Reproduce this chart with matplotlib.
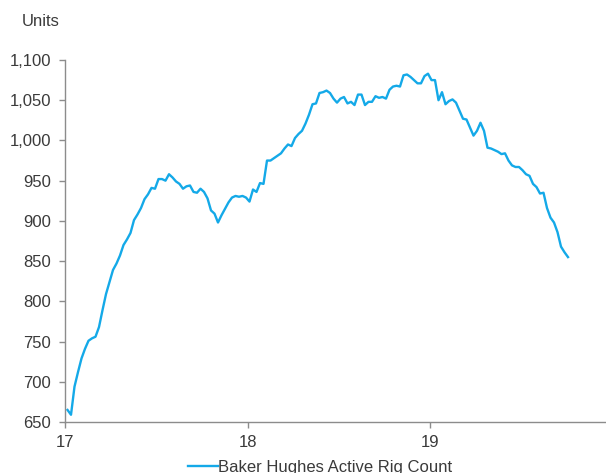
import matplotlib
matplotlib.use("Agg")
import matplotlib.pyplot as plt
import matplotlib.ticker as mticker
import pandas as pd

plt.rcParams["font.family"] = ["Liberation Sans", "DejaVu Sans"]

# Weekly Baker Hughes US active rig count, Fridays from 6 Jan 2017
rigs_2017 = [665, 659, 694, 712, 729, 741, 751, 754, 756, 768,
             789, 809, 824, 839, 847, 857, 870, 877, 885, 901,
             908, 916, 927, 933, 941, 940, 952, 952, 950, 958,
             954, 949, 946, 940, 943, 944, 936, 935, 940, 936,
             928, 913, 909, 898, 907, 915, 923, 929, 931, 930,
             931, 929]
rigs_2018 = [924, 939, 936, 947, 946, 975, 975, 978, 981, 984,
             990, 995, 993, 1003, 1008, 1012, 1021, 1032, 1045, 1046,
             1059, 1060, 1062, 1059, 1052, 1047, 1052, 1054, 1046, 1048,
             1044, 1057, 1057, 1044, 1048, 1048, 1055, 1053, 1054, 1052,
             1063, 1067, 1068, 1067, 1081, 1082, 1079, 1075, 1071, 1071,
             1080, 1083]
rigs_2019 = [1075, 1075, 1050, 1060, 1045, 1049, 1051, 1047, 1037, 1027,
             1026, 1016, 1006, 1012, 1022, 1012, 991, 990, 988, 986,
             983, 984, 975, 969, 967, 967, 963, 958, 956, 946,
             942, 934, 935, 916, 904, 898, 886, 868, 861, 855]

rig_count = rigs_2017 + rigs_2018 + rigs_2019
weeks = pd.date_range("2017-01-06", periods=len(rig_count), freq="W-FRI")

y_ticks = [650, 700, 750, 800, 850, 900, 950, 1000, 1050, 1100]
x_ticks = ["2017-01-01", "2018-01-01", "2019-01-01"]
x_tick_labels = ["17", "18", "19"]
series_name = "Baker Hughes Active Rig Count"

line_color = "#14A9E8"
text_color = "#3a3a3a"
axis_color = "#8c8c8c"
font_size = 12

fig = plt.figure(figsize=(6.06, 4.73), dpi=100)
ax = fig.add_axes([65 / 606, (473 - 422) / 473, 541 / 606, 362 / 473])

ax.plot(weeks, rig_count, color=line_color, lw=1.7, label=series_name,
        solid_joinstyle="round")

ax.set_ylim(y_ticks[0], y_ticks[-1])
ax.set_yticks(y_ticks)
ax.yaxis.set_major_formatter(mticker.FuncFormatter(lambda v, p: f"{int(v):,}"))

ax.set_xlim(pd.Timestamp("2017-01-01"), pd.Timestamp("2019-12-19"))
ax.set_xticks(pd.to_datetime(x_ticks))
ax.set_xticklabels(x_tick_labels)

for side in ("top", "right"):
    ax.spines[side].set_visible(False)
for side in ("left", "bottom"):
    ax.spines[side].set_color(axis_color)
    ax.spines[side].set_linewidth(1.0)

ax.tick_params(axis="y", direction="out", length=4, width=1, color=axis_color,
               labelsize=font_size, labelcolor=text_color, pad=6)
ax.tick_params(axis="x", direction="out", length=4, width=1, color=axis_color,
               labelsize=font_size, labelcolor=text_color, pad=5)

fig.text(22 / 606, 1 - 22 / 473, "Units", fontsize=font_size, color=text_color,
         va="center", ha="left")

fig.legend(loc="center", bbox_to_anchor=(320 / 606, 6 / 473), frameon=False,
           fontsize=font_size, labelcolor=text_color, handlelength=1.8,
           handletextpad=0.05)

fig.savefig("out.png", dpi=100)
